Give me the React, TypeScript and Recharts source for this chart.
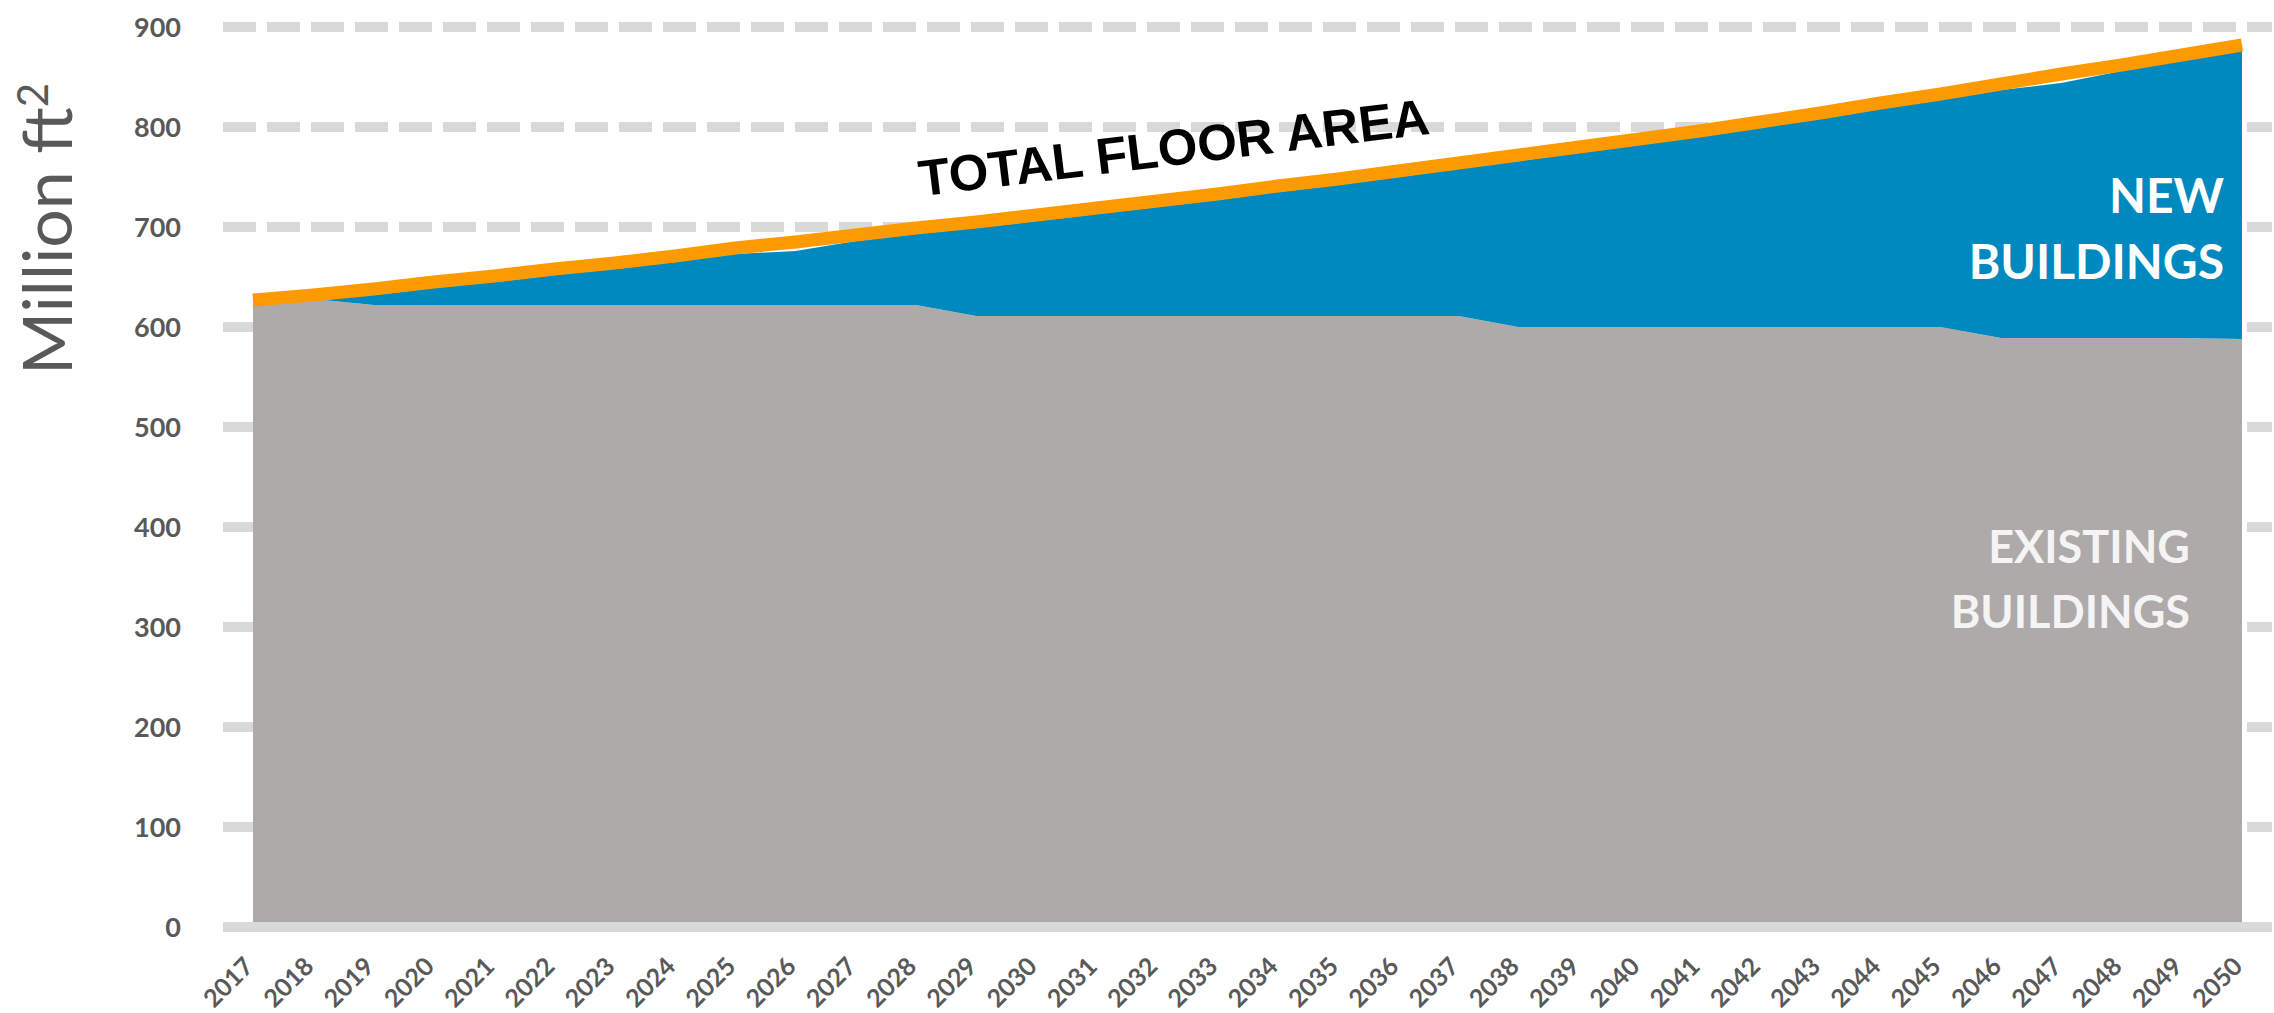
import { AreaChart, Area, Line, XAxis, YAxis, CartesianGrid, ReferenceLine } from 'recharts'

const years = [
  '2017', '2018', '2019', '2020', '2021', '2022', '2023', '2024', '2025', '2026', '2027', '2028',
  '2029', '2030', '2031', '2032', '2033', '2034', '2035', '2036', '2037', '2038', '2039', '2040',
  '2041', '2042', '2043', '2044', '2045', '2046', '2047', '2048', '2049', '2050',
]

// million ft2
const existingBuildings = [
  629, 628, 622, 622, 622, 622, 622, 622, 622, 622, 622, 622,
  611, 611, 611, 611, 611, 611, 611, 611, 611,
  600, 600, 600, 600, 600, 600, 600, 600,
  589, 589, 589, 589, 588,
]

const newBuildings = [
  0, 0, 10, 17, 23, 30, 36, 43, 51, 54, 64, 71,
  88, 95, 102, 109, 116, 124, 131, 139, 147,
  166, 174, 182, 190, 199, 208, 218, 227,
  248, 255, 267, 277, 288,
]

const totalFloorArea = [
  627, 632, 638, 645, 651, 658, 664, 671, 679, 685, 692, 699,
  705, 712, 719, 726, 733, 741, 748, 756, 764, 772, 780, 788,
  796, 805, 814, 824, 833, 843, 853, 862, 872, 882,
]

const yTicks = [0, 100, 200, 300, 400, 500, 600, 700, 800, 900]

const data = years.map((year, i) => ({
  year,
  existing: existingBuildings[i],
  added: newBuildings[i],
  total: totalFloorArea[i],
}))

const FONT = 'Lato, "Open Sans", sans-serif'
const GREY_TEXT = '#595959'

function XTick({ x, y, payload }: any) {
  const ax = x + 2
  return (
    <text
      x={ax}
      y={y}
      transform={`rotate(-45, ${ax}, ${y})`}
      textAnchor="end"
      fontSize={25}
      fontWeight={700}
      fill={GREY_TEXT}
      fontFamily={FONT}
    >
      {payload.value}
    </text>
  )
}

// text layer drawn over the chart
function Annotations() {
  return (
    <svg
      width={2274}
      height={1013}
      style={{ position: 'absolute', left: 0, top: 0, pointerEvents: 'none' }}
    >
      <text
        x={72}
        y={229}
        transform="rotate(-90, 72, 229)"
        textAnchor="middle"
        fontSize={68}
        fill={GREY_TEXT}
        fontFamily={FONT}
      >
        Million ft<tspan fontSize={42} dy={-24}>2</tspan>
      </text>
      <text
        x={1176}
        y={165}
        transform="rotate(-7, 1176, 165)"
        textAnchor="middle"
        fontSize={51}
        fontWeight={700}
        fill="#000"
        fontFamily='"Liberation Sans", Arial, sans-serif'
      >
        TOTAL FLOOR AREA
      </text>
      <g fontFamily={FONT} fontWeight={700} textAnchor="end" fill="#fff" fontSize={48}>
        <text x={2224} y={213}>NEW</text>
        <text x={2224} y={279}>BUILDINGS</text>
      </g>
      <g fontFamily={FONT} fontWeight={700} textAnchor="end" fill="#f4f4f4" fontSize={45}>
        <text x={2190} y={563}>EXISTING</text>
        <text x={2190} y={628}>BUILDINGS</text>
      </g>
    </svg>
  )
}

export default function App() {
  return (
    <div style={{ position: 'absolute', left: 0, top: 0, width: 2274, height: 1013, background: '#fff' }}>
      <AreaChart width={2274} height={1013} data={data} margin={{ top: 27, right: 2, left: 0, bottom: 0 }}>
        <CartesianGrid vertical={false} stroke="#d9d9d9" strokeWidth={10} strokeDasharray="33 11" />
        <XAxis
          dataKey="year"
          interval={0}
          height={86}
          padding={{ left: 30, right: 30 }}
          axisLine={false}
          tickLine={false}
          tickSize={0}
          tickMargin={41}
          tick={<XTick />}
        />
        <YAxis
          width={223}
          domain={[0, 900]}
          ticks={yTicks}
          axisLine={false}
          tickLine={false}
          tickSize={0}
          tickMargin={42}
          tick={{ fontSize: 27, fontWeight: 700, fill: GREY_TEXT, fontFamily: FONT }}
        />
        <Area
          type="linear"
          dataKey="existing"
          stackId="1"
          fill="#aeaaaa"
          fillOpacity={1}
          stroke="none"
          isAnimationActive={false}
        />
        <Area
          type="linear"
          dataKey="added"
          stackId="1"
          fill="#0089be"
          fillOpacity={1}
          stroke="none"
          isAnimationActive={false}
        />
        <Line
          type="linear"
          dataKey="total"
          stroke="#fd9a00"
          strokeWidth={13}
          dot={false}
          activeDot={false}
          isAnimationActive={false}
        />
        <ReferenceLine y={0} stroke="#d9d9d9" strokeWidth={10} />
      </AreaChart>
      <Annotations />
    </div>
  )
}
